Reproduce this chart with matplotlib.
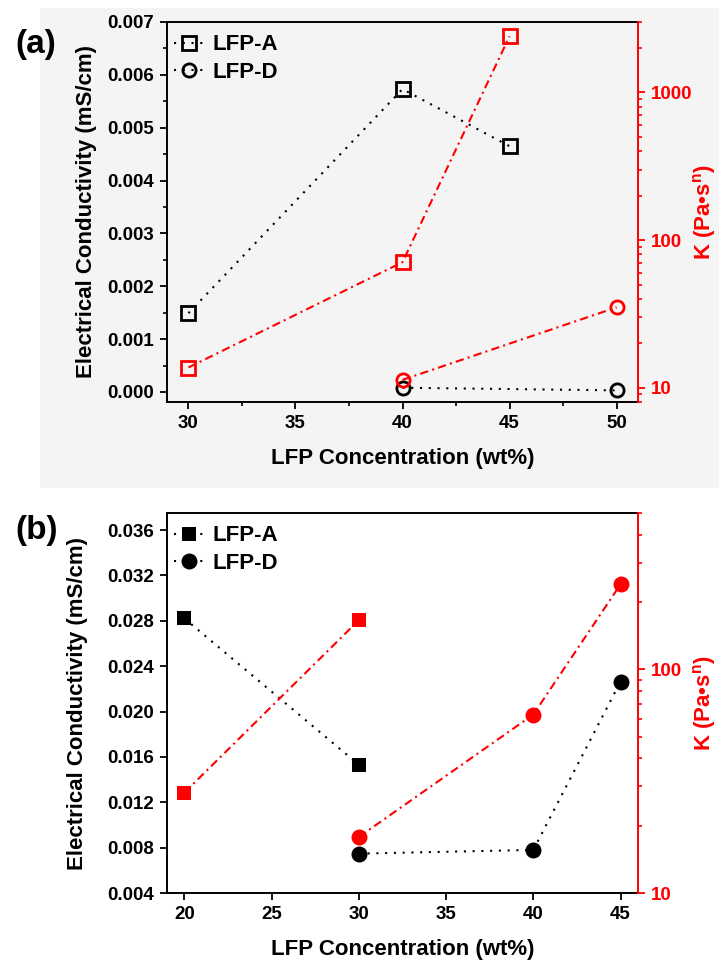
import matplotlib
matplotlib.use("Agg")
import matplotlib.pyplot as plt
from matplotlib.patches import Rectangle
from matplotlib.ticker import MultipleLocator, LogLocator, NullFormatter, FixedLocator, FormatStrFormatter

plt.rcParams['font.family'] = ['Liberation Sans', 'DejaVu Sans']
plt.rcParams['font.weight'] = 'bold'
plt.rcParams['mathtext.fontset'] = 'custom'
plt.rcParams['mathtext.rm'] = 'Liberation Sans:bold'
plt.rcParams['mathtext.bf'] = 'Liberation Sans:bold'
plt.rcParams['mathtext.it'] = 'Liberation Sans:bold'

# ---- panel (a): open symbols ----
conc_a_A = [30, 40, 45]
cond_a_A = [0.00149, 0.00573, 0.00465]
k_a_A = [13.7, 70.8, 2400]

conc_a_D = [40, 50]
cond_a_D = [0.00008, 0.00003]
k_a_D = [11.3, 35.0]

# ---- panel (b): filled symbols ----
conc_b_A = [20, 30]
cond_b_A = [0.0282, 0.0153]
k_b_A = [28.1, 166]

conc_b_D = [30, 40, 45]
cond_b_D = [0.00747, 0.0078, 0.02264]
k_b_D = [17.8, 62.8, 240]

series_labels = ["LFP-A", "LFP-D"]
x_label = "LFP Concentration (wt%)"
y_label = "Electrical Conductivity (mS/cm)"
k_label = "K (Pa\u2022s$^{n}$)"

RED = "#ff0000"
W, H = 719, 967
fig = plt.figure(figsize=(W / 100, H / 100), dpi=100)

# faint grey backdrop behind panel (a)
backdrop = Rectangle((40 / W, 1 - 488 / H), 679 / W, 480 / H,
                     transform=fig.transFigure, facecolor="#f4f4f4",
                     edgecolor="none", zorder=-10)
fig.patches.append(backdrop)


def ax_rect(left, top, right, bottom):
    return [left / W, 1 - bottom / H, (right - left) / W, (bottom - top) / H]


def style_axes(ax, ax2):
    for s in ("left", "bottom", "top"):
        ax.spines[s].set_linewidth(1.4)
        ax.spines[s].set_color("black")
    ax.spines["right"].set_visible(False)
    for s in ("left", "bottom", "top"):
        ax2.spines[s].set_visible(False)
    ax2.spines["right"].set_color(RED)
    ax2.spines["right"].set_linewidth(1.4)
    ax.tick_params(axis="both", which="major", direction="out", length=5, width=1.3,
                   labelsize=13.5, pad=4.5, top=False, right=False)
    ax.tick_params(axis="both", which="minor", direction="out", length=3, width=1.2,
                   top=False, right=False)
    ax2.tick_params(axis="y", which="major", direction="out", length=5, width=1.3,
                    labelsize=13.5, pad=4.5, colors=RED)
    ax2.tick_params(axis="y", which="minor", direction="out", length=3, width=1.2,
                    colors=RED)
    for lab in ax.get_xticklabels() + ax.get_yticklabels() + ax2.get_yticklabels():
        lab.set_fontweight("bold")
    ax2.yaxis.set_major_locator(LogLocator(base=10))
    ax2.yaxis.set_minor_locator(LogLocator(base=10, subs=range(2, 10)))
    ax2.yaxis.set_minor_formatter(NullFormatter())
    ax2.yaxis.set_major_formatter(FormatStrFormatter("%d"))
    ax.set_xlabel(x_label, fontsize=16, fontweight="bold")
    ax.xaxis.set_label_coords(0.5, -0.122)
    ax.set_ylabel(y_label, fontsize=16, fontweight="bold")
    ax2.set_ylabel(k_label, fontsize=16, fontweight="bold", color=RED)
    ax2.yaxis.set_label_coords(1.112, 0.5)


dot_kw = dict(color="black", linestyle=(0, (1, 3.2)), linewidth=1.5)
dd_kw = dict(color=RED, linestyle=(0, (4, 2, 1, 2)), linewidth=1.5)
leg_kw = dict(loc="upper left", bbox_to_anchor=(0.0, 0.985), frameon=False,
              handlelength=1.4, handletextpad=0.35, labelspacing=0.3,
              borderaxespad=0.1, borderpad=0.2, prop=dict(weight="bold", size=16))

# ================= panel (a) =================
axa = fig.add_axes(ax_rect(167, 22, 638, 402))
axa.set_facecolor("none")
axa2 = axa.twinx()
axa2.set_yscale("log")

mk_a = dict(markersize=9.5, markeredgewidth=2.0, markerfacecolor="none")
la, = axa.plot(conc_a_A, cond_a_A, marker="s", markeredgecolor="black", **mk_a, **dot_kw)
ld, = axa.plot(conc_a_D, cond_a_D, marker="o", markeredgecolor="black", **mk_a, **dot_kw)
axa2.plot(conc_a_A, k_a_A, marker="s", markeredgecolor=RED, **mk_a, **dd_kw)
axa2.plot(conc_a_D, k_a_D, marker="o", markeredgecolor=RED, **mk_a, **dd_kw)

axa.set_xlim(29, 51)
axa.set_ylim(-0.00019, 0.007)
axa2.set_ylim(8, 3000)
axa.xaxis.set_major_locator(MultipleLocator(5))
axa.xaxis.set_minor_locator(MultipleLocator(2.5))
axa.yaxis.set_major_locator(MultipleLocator(0.001))
axa.yaxis.set_minor_locator(MultipleLocator(0.0005))
axa.yaxis.set_major_formatter(FormatStrFormatter("%.3f"))
style_axes(axa, axa2)
axa.yaxis.set_label_coords(-0.149, 0.5)
axa.legend([la, ld], series_labels, **leg_kw)

fig.text(15 / W, 1 - 45 / H, "(a)", fontsize=24, fontweight="bold", va="center", ha="left")

# ================= panel (b) =================
axb = fig.add_axes(ax_rect(167, 513, 638, 893))
axb.set_facecolor("none")
axb2 = axb.twinx()
axb2.set_yscale("log")

mk_s = dict(markersize=10, markeredgewidth=0)
mk_c = dict(markersize=11.5, markeredgewidth=0)
lb_a, = axb.plot(conc_b_A, cond_b_A, marker="s", markerfacecolor="black", **mk_s, **dot_kw)
lb_d, = axb.plot(conc_b_D, cond_b_D, marker="o", markerfacecolor="black", **mk_c, **dot_kw)
axb2.plot(conc_b_A, k_b_A, marker="s", markerfacecolor=RED, **mk_s, **dd_kw)
axb2.plot(conc_b_D, k_b_D, marker="o", markerfacecolor=RED, **mk_c, **dd_kw)

axb.set_xlim(19, 46)
axb.set_ylim(0.004, 0.0375)
axb2.set_ylim(10, 500)
axb.xaxis.set_major_locator(MultipleLocator(5))
axb.xaxis.set_minor_locator(FixedLocator([]))
axb.yaxis.set_major_locator(MultipleLocator(0.004))
axb.yaxis.set_minor_locator(FixedLocator([]))
axb.yaxis.set_major_formatter(FormatStrFormatter("%.3f"))
style_axes(axb, axb2)
axb.yaxis.set_label_coords(-0.168, 0.5)
axb.legend([lb_a, lb_d], series_labels, **leg_kw)

fig.text(15 / W, 1 - 530 / H, "(b)", fontsize=24, fontweight="bold", va="center", ha="left")

fig.savefig("out.png", dpi=100)
